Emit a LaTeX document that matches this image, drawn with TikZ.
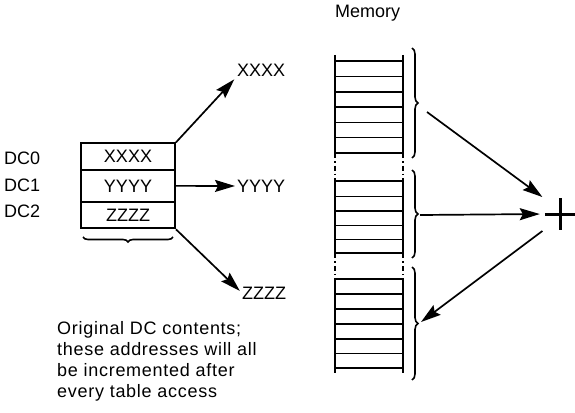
\documentclass[tikz,border=0pt]{standalone}
\usepackage{fontspec}
\setmainfont{Liberation Sans}
\usetikzlibrary{arrows.meta,decorations.pathreplacing}
\begin{document}
\begin{tikzpicture}[x=1pt,y=-1pt,
  lbl/.style={font=\fontsize{18}{21}\selectfont, inner sep=0pt},
  row/.style={draw, line width=2pt, minimum width=94pt, inner sep=0pt, font=\fontsize{18}{21}\selectfont},
  arr/.style={line width=1.7pt, -{Stealth[length=20pt,width=12pt,inset=3pt]}},
  cell/.style={line width=1.9pt},
  dashcell/.style={line width=1.9pt, dash pattern=on 5pt off 3pt on 1.5pt off 3pt},
  brc/.style={line width=1.6pt, decorate, decoration={brace,amplitude=6pt}}
]
\useasboundingbox (0,0) rectangle (575,412);
% DC register table
\node[row, minimum height=26.7pt] (r0) at (128,156.7) {XXXX};
\node[row, minimum height=31.7pt] (r1) at (128,185.85) {YYYY};
\node[row, minimum height=26.7pt] (r2) at (128,215) {ZZZZ};
\node[lbl, anchor=west] (dc0) at (4,158) {DC0};
\node[lbl, anchor=west] (dc1) at (4,185) {DC1};
\node[lbl, anchor=west] (dc2) at (4,211) {DC2};
\draw[brc, decoration={amplitude=5pt}] (173,237) -- (83,237);
% targets
\node[lbl, anchor=west] (xl) at (237,70) {XXXX};
\node[lbl, anchor=west] (yl) at (237,186) {YYYY};
\node[lbl, anchor=west] (zl) at (242,293) {ZZZZ};
\draw[arr, shorten >=4pt] (r0.north east) -- (xl.south west);
\draw[arr, shorten >=2pt] (r1.east) -- (yl.west);
\draw[arr, shorten >=3pt] (r2.south east) -- (zl.west);
% note
\node[lbl, anchor=north west, align=left, font=\fontsize{18}{21}\selectfont\addfontfeatures{LetterSpace=4}] (note) at (57,321)
  {Original DC contents;\\these addresses will all\\be incremented after\\every table access};
% memory
\node[lbl, anchor=west] (mem) at (335,13) {Memory};
\foreach \x in {335,403}{
  \draw[cell] (\x,55) -- (\x,153);
  \draw[dashcell] (\x,153) -- (\x,181);
  \draw[cell] (\x,181) -- (\x,253.3);
  \draw[dashcell] (\x,253.3) -- (\x,279);
  \draw[cell] (\x,279) -- (\x,373);
}
\foreach \y in {61,76.5,92,107,122.5,137.5,152.7,181,196.5,211,225.5,239.5,253.3,279,294,309,324,339,353.5,368}{
  \draw[cell] (335,\y) -- (403,\y);
}
\draw[brc] (412,48) -- (412,158);
\draw[brc] (412,170) -- (412,258);
\draw[brc] (412,267) -- (412,380);
\coordinate (b1) at (427,112);
\coordinate (b2) at (420,215);
\coordinate (b3) at (421,322);
% adder
\node[minimum size=30pt, inner sep=0pt] (plus) at (560,214) {};
\draw[line width=3pt] (plus.west) -- (plus.east) (560,198) -- (560,230);
\draw[arr, shorten >=3pt] (b1) -- (plus.135);
\draw[arr, shorten >=5pt] (b2) -- (plus.west);
\draw[arr, shorten <=3pt] (plus.225) -- (b3);
\end{tikzpicture}
\end{document}
